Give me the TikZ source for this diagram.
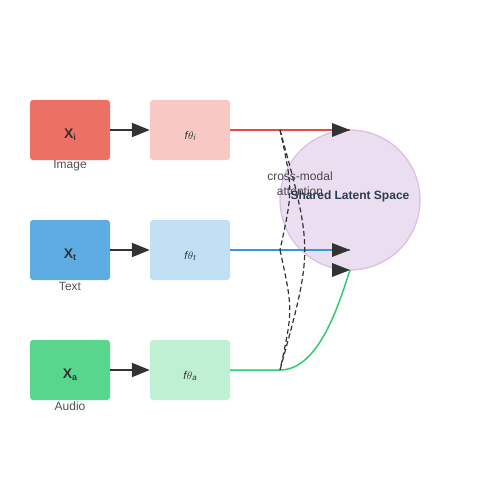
\documentclass[tikz,border=0pt]{standalone}
\usepackage{fontspec}
\setmainfont{Liberation Sans}
\usetikzlibrary{arrows.meta}
\definecolor{cimg}{HTML}{EC7063}
\definecolor{ctxt}{HTML}{5DADE2}
\definecolor{caud}{HTML}{58D68D}
\definecolor{eimg}{HTML}{F8C9C4}
\definecolor{etxt}{HTML}{C2E0F4}
\definecolor{eaud}{HTML}{C0F0D4}
\definecolor{lred}{HTML}{E74C3C}
\definecolor{lblue}{HTML}{3498DB}
\definecolor{lgreen}{HTML}{2ECC71}
\definecolor{circfill}{HTML}{EBDEF0}
\definecolor{circline}{HTML}{D9BFE4}
\definecolor{dark}{HTML}{333333}
\definecolor{navy}{HTML}{2C3E50}
\tikzset{
  inbox/.style={rectangle, rounded corners=3pt, minimum width=80pt, minimum height=60pt, inner sep=0pt, font=\fontsize{14}{16}\selectfont\bfseries, text=dark},
  encbox/.style={rectangle, rounded corners=3pt, minimum width=80pt, minimum height=60pt, inner sep=0pt, font=\fontsize{11}{13}\selectfont\itshape, text=dark},
  lbl/.style={font=\fontsize{12}{14}\selectfont, text=dark!85},
  inarrow/.style={-{Triangle[length=18pt,width=14pt]}, draw=dark, line width=2pt},
  outline/.style={line width=1.5pt},
  attn/.style={draw=dark, line width=1.2pt, dash pattern=on 5pt off 3pt},
  boxtext/.style={inner sep=0pt},
}
\begin{document}
\begin{tikzpicture}[x=1pt,y=-1pt]
\useasboundingbox (0,0) rectangle (500,500);
% shared latent space
\node[circle, fill=circfill, draw=circline, line width=1.2pt, minimum size=140pt, inner sep=0pt] (lat) at (350,200) {};
% inputs
\node[inbox, fill=cimg] (x1) at (70,130) {};
\node[inbox, fill=ctxt] (x2) at (70,250) {};
\node[inbox, fill=caud] (x3) at (70,370) {};
\node[boxtext, font=\fontsize{14}{16}\selectfont\bfseries, text=dark] (xt1) at (70,135) {X\raisebox{-2pt}{\fontsize{9}{9}\selectfont i}};
\node[boxtext, font=\fontsize{14}{16}\selectfont\bfseries, text=dark] (xt2) at (70,255) {X\raisebox{-2pt}{\fontsize{9}{9}\selectfont t}};
\node[boxtext, font=\fontsize{14}{16}\selectfont\bfseries, text=dark] (xt3) at (70,375) {X\raisebox{-2pt}{\fontsize{9}{9}\selectfont a}};
\node[lbl] (l1) at (70,166) {Image};
\node[lbl] (l2) at (70,286) {Text};
\node[lbl] (l3) at (70,406) {Audio};
% encoders
\node[encbox, fill=eimg] (e1) at (190,130) {};
\node[encbox, fill=etxt] (e2) at (190,250) {};
\node[encbox, fill=eaud] (e3) at (190,370) {};
\node[boxtext, font=\fontsize{11}{13}\selectfont\itshape, text=dark] (et1) at (190,136) {f\kern0.5pt$\theta$\raisebox{-1.5pt}{\fontsize{8}{8}\selectfont i}};
\node[boxtext, font=\fontsize{11}{13}\selectfont\itshape, text=dark] (et2) at (190,256) {f\kern0.5pt$\theta$\raisebox{-1.5pt}{\fontsize{8}{8}\selectfont t}};
\node[boxtext, font=\fontsize{11}{13}\selectfont\itshape, text=dark] (et3) at (190,376) {f\kern0.5pt$\theta$\raisebox{-1.5pt}{\fontsize{8}{8}\selectfont a}};
\draw[inarrow] (x1.east) -- (e1.west);
\draw[inarrow] (x2.east) -- (e2.west);
\draw[inarrow] (x3.east) -- (e3.west);
% coordinates
\coordinate (t1) at (350,130);
\coordinate (t2) at (350,250);
\coordinate (t3) at (350,270);
\coordinate (a1) at (280,130);
\coordinate (a2) at (280,250);
\coordinate (a3) at (280,370);
% outputs
\draw[outline, draw=lred] (e1.east) -- (t1);
\draw[outline, draw=lblue] (e2.east) -- (t2);
\draw[outline, draw=lgreen] (e3.east) -- (a3) .. controls (320,370) and (340,300) .. (t3);
\fill[dark] (t1) -- ++(-18,-7) -- ++(0,14) -- cycle;
\fill[dark] (t2) -- ++(-18,-7) -- ++(0,14) -- cycle;
\fill[dark] (t3) -- ++(-18,-7) -- ++(0,14) -- cycle;
% attention
\draw[attn] (a1) .. controls (293,190) .. (a2);
\draw[attn] (a1) .. controls (313,250) .. (a3);
\draw[attn] (a2) .. controls (293,310) .. (a3);
\node[lbl, align=center, font=\fontsize{12}{15}\selectfont, text=dark!90] (cm) at (300,184) {cross-modal\\attention};
\node[font=\fontsize{12}{14}\selectfont\bfseries, text=navy] (sls) at (350,196) {Shared Latent Space};
\end{tikzpicture}
\end{document}
